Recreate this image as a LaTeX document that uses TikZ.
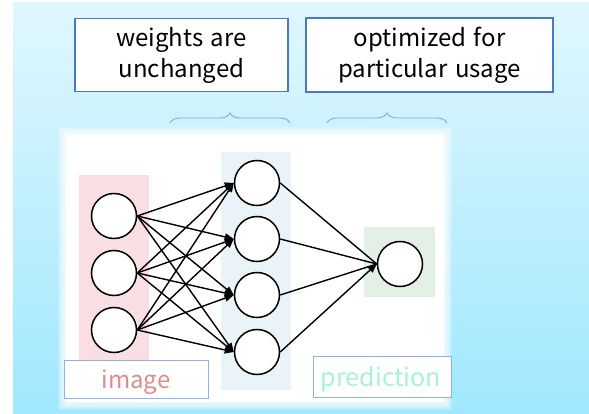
\documentclass[tikz,border=0pt]{standalone}
\usepackage{fontspec}
\setmainfont[WordSpace=1.4]{Noto Sans CJK JP}
\usetikzlibrary{arrows.meta,decorations.pathreplacing}
\definecolor{bgtop}{HTML}{E0F7FE}
\definecolor{bgbot}{HTML}{A0E8FE}
\definecolor{boxblue}{HTML}{4A78C8}
\definecolor{bracecol}{HTML}{7FA8E0}
\definecolor{pinkbg}{HTML}{F9DEE4}
\definecolor{bluebg}{HTML}{EAF3F8}
\definecolor{greenbg}{HTML}{E2F0E6}
\definecolor{imgtxt}{HTML}{E08C8C}
\definecolor{predtxt}{HTML}{A6F2DA}
\definecolor{labelbox}{HTML}{8FB0F0}
\tikzset{
  textbox/.style={draw=boxblue, line width=1.3pt, fill=white, align=center,
    font=\fontsize{24}{31}\selectfont, inner sep=0pt},
  neuron/.style={circle, draw=black, line width=1.5pt, fill=white, minimum size=45pt, inner sep=0pt},
  conn/.style={line width=1.4pt, -{Triangle[length=9pt,width=7pt]}},
  plainconn/.style={line width=1.4pt},
  bracestyle/.style={draw=bracecol, line width=0.9pt, decorate,
    decoration={brace, amplitude=10pt, raise=0pt}},
  labelrect/.style={draw=labelbox, line width=0.8pt, fill=white, inner sep=0pt},
}
\begin{document}
\begin{tikzpicture}[x=1pt,y=-1pt]
\useasboundingbox (0,0) rectangle (589,414);
\fill[white] (0,0) rectangle (589,414);
\shade[top color=bgtop, bottom color=bgbot] (13,3) rectangle (589,414);
% glowing white panel
\foreach \i in {8,7,6,5,4,3,2,1}{
  \fill[white, opacity=0.18] ({66-\i},{135-\i}) rectangle ({444+\i},{402+\i});
}
\fill[white] (66,135) rectangle (444,402);
% layer backgrounds
\fill[pinkbg] (79,175) rectangle (149,372);
\fill[bluebg] (221,152) rectangle (291,390);
\fill[greenbg] (364,227) rectangle (435,297);
% top boxes
\node[textbox, minimum width=213pt, minimum height=73pt] (wbox) at (181.5,55) {weights are\\unchanged};
\node[textbox, minimum width=247pt, minimum height=74pt] (obox) at (429.5,55) {optimized for\\particular usage};
% braces
\coordinate (b1l) at (170,123);
\coordinate (b1r) at (290,123);
\coordinate (b2l) at (327,123);
\coordinate (b2r) at (447,123);
\draw[bracestyle] (b1l) -- (b1r);
\draw[bracestyle] (b2l) -- (b2r);
% neurons
\node[neuron] (i1) at (114,216) {};
\node[neuron] (i2) at (114,273) {};
\node[neuron] (i3) at (114,330) {};
\node[neuron] (h1) at (257,183) {};
\node[neuron] (h2) at (257,239) {};
\node[neuron] (h3) at (257,295) {};
\node[neuron] (h4) at (257,352) {};
\node[neuron] (o) at (400,264) {};
% connections
\foreach \a in {i1,i2,i3}{
  \foreach \b in {h1,h2,h3,h4}{
    \draw[conn] (\a.east) -- (\b.west);
  }
}
\foreach \b in {h1,h2,h3}{
  \draw[plainconn] (\b.east) -- (o.west);
}
\draw[conn] (h4.east) -- (o.west);
% bottom labels
\node[labelrect, minimum width=144pt, minimum height=38pt] (imgbox) at (136,379) {};
\node[text=imgtxt, font=\fontsize{24}{24}\selectfont] (imgtext) at (136,382) {image};
\node[labelrect, minimum width=138pt, minimum height=41pt] (predbox) at (382,376.5) {};
\node[text=predtxt, font=\fontsize{25}{25}\selectfont] (predtext) at (381,379) {prediction};
\end{tikzpicture}
\end{document}
